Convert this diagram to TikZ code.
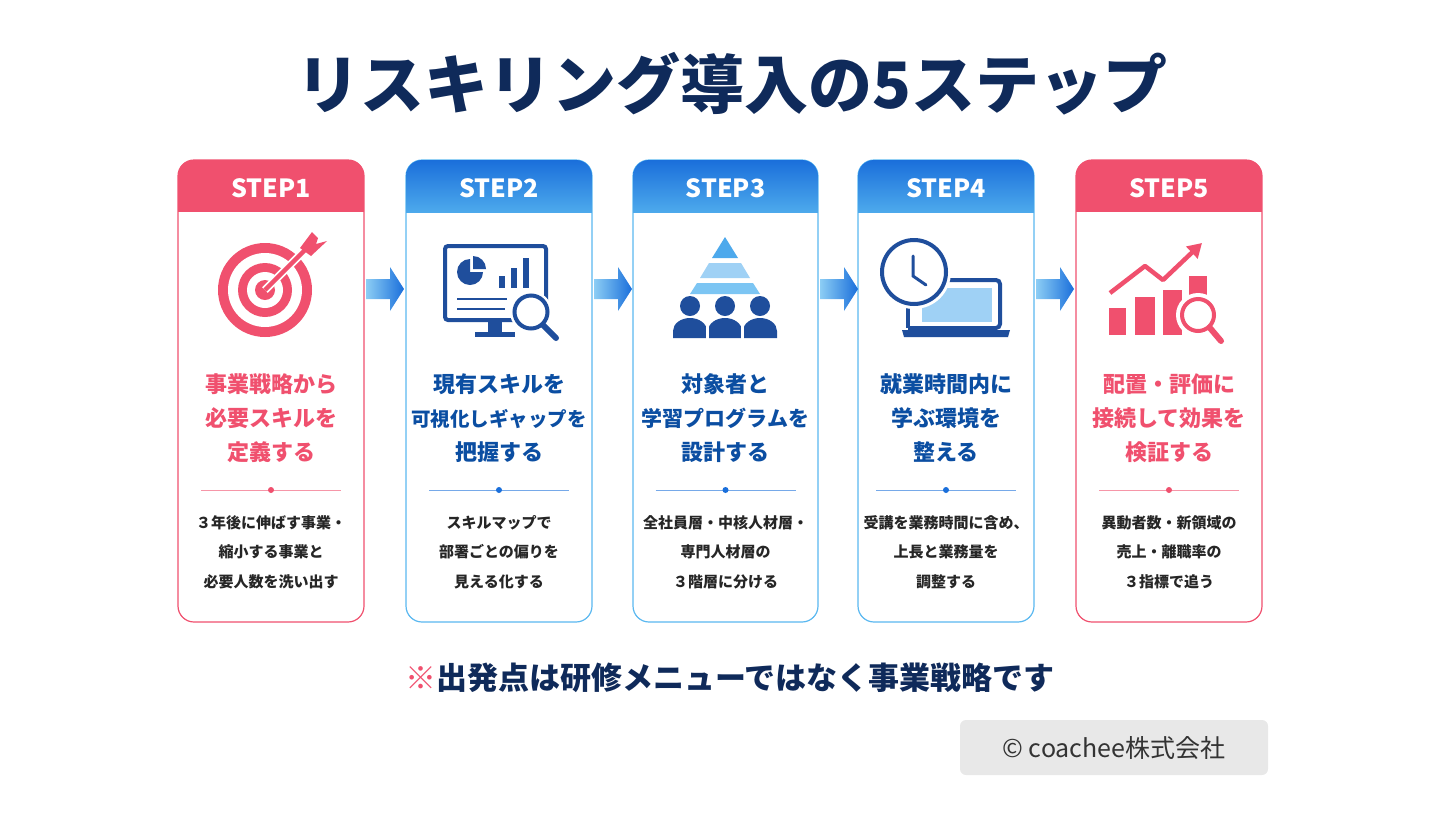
\documentclass[tikz,border=0pt]{standalone}
\usepackage{fontspec}
\setmainfont{Noto Sans CJK JP}
\usetikzlibrary{arrows.meta}
\definecolor{pk}{HTML}{F0506E}
\definecolor{bl}{HTML}{1A6FDB}
\definecolor{lb}{HTML}{5AB8F0}
\definecolor{nv}{HTML}{0F2A5A}
\definecolor{ib}{HTML}{1F4E9C}
\definecolor{tb}{HTML}{0B4EA2}
\definecolor{sky}{HTML}{9FD1F5}
\begin{document}
\begin{tikzpicture}[x=1pt,y=-1pt,
  card/.style={draw=#1,line width=1.2pt,rounded corners=16pt,fill=white},
  hd/.style={font=\bfseries\fontsize{25}{25}\selectfont,text=white},
  ttl/.style={font=\bfseries\fontsize{22}{34}\selectfont,align=center},
  desc/.style={font=\bfseries\fontsize{15}{29.5}\selectfont,align=center,text=black!85},
  ic/.style={line width=4pt,draw=ib}]
\useasboundingbox (0,0) rectangle (1440,820);
\node[font=\bfseries\fontsize{64}{64}\selectfont,text=nv] (title) at (732,84) {リスキリング導入の5ステップ};
% cards
\foreach \i/\x/\w/\c in {1/178/186/pk,2/406/186/lb,3/633/185/lb,4/858/176/lb,5/1076/186/pk}{
  \draw[card=\c] (\x,160) rectangle ++(\w,462);
}
% headers
\begin{scope}
\clip[rounded corners=16pt] (178,160) rectangle (364,260);
\fill[pk] (178,160) rectangle (364,212);
\end{scope}
\begin{scope}
\clip[rounded corners=16pt] (1076,160) rectangle (1262,260);
\fill[pk] (1076,160) rectangle (1262,212);
\end{scope}
\foreach \x/\w in {406/186,633/185,858/176}{
\begin{scope}
\clip[rounded corners=16pt] (\x,160) rectangle ++(\w,100);
\shade[top color=bl,bottom color=lb!80!bl] (\x,160) rectangle ++(\w,52);
\end{scope}}
\node[hd] (h1) at (271,188) {STEP1};
\node[hd] (h2) at (499,188) {STEP2};
\node[hd] (h3) at (725.5,188) {STEP3};
\node[hd] (h4) at (946,188) {STEP4};
\node[hd] (h5) at (1169,188) {STEP5};
% arrows
\foreach \a in {366,594,820,1036}{
  \shade[left color=lb!70,right color=bl] (\a,279) -- ++(24,0) -- ++(0,-12) -- ++(14,22) -- ++(-14,22) -- ++(0,-12) -- ++(-24,0) -- cycle;
}
% icon 1 target
\fill[pk] (265,290) circle (47);
\fill[white] (265,290) circle (37);
\fill[pk] (265,290) circle (27);
\fill[white] (265,290) circle (18);
\fill[pk] (265,290) circle (10);
\draw[white,line width=8pt] (265,290) -- (305,250);
\draw[pk,line width=4.5pt] (265,290) -- (308,247);
\fill[pk] (300,248) -- (312,232) -- (318,238) -- (316,244) -- (327,241) -- (311,256) -- cycle;
% icon 2 monitor
\draw[ic,rounded corners=3pt] (445,246) rectangle (546,320);
\fill[ib] (470,272) -- (470,259) arc (270:0:13) -- cycle;
\fill[ib] (473,269) -- (473,256) arc (270:360:13) -- cycle;
\fill[ib] (499,276) rectangle (505,288);
\fill[ib] (511,268) rectangle (517,288);
\fill[ib] (523,258) rectangle (529,288);
\draw[ib,line width=2.5pt] (457,299) -- (507,299) (457,309) -- (505,309);
\fill[ib] (488,322) rectangle (502,334);
\fill[ib] (475,332) rectangle (515,337);
\fill[white] (531,312) circle (21);
\draw[ic] (531,312) circle (16.5);
\draw[ib,line width=6pt,line cap=round] (543,325) -- (556,338);
% icon 3 pyramid
\fill[lb!80!bl] (725,237) -- (738,258) -- (712,258) -- cycle;
\fill[sky] (709,263) -- (741,263) -- (750,278) -- (700,278) -- cycle;
\fill[lb!50!sky] (697,283) -- (753,283) -- (760,294) -- (690,294) -- cycle;
\foreach \px in {690,725,760}{
  \fill[ib] (\px,306) circle (10);
  \fill[ib] (\px-17,338) -- (\px-17,331) arc (180:360:17 and 13) -- (\px+17,338) -- cycle;
}
\foreach \px in {707.5,742.5}{\draw[white,line width=3pt] (\px,318) -- (\px,340);}
% icon 4 clock + laptop
\draw[ic] (908,290) -- (908,328);
\draw[ic,rounded corners=4pt] (940,280) -- (1000,280) -- (1000,328) -- (908,328);
\fill[sky] (922,288) rectangle (992,322);
\fill[ib] (902,330) -- (1010,330) -- (1008,337) -- (904,337) -- cycle;
\fill[white] (914,272) circle (37);
\draw[ic] (914,272) circle (32);
\draw[ib,line width=3pt,line cap=round] (913,256) -- (913,276) -- (926,285);
% icon 5 chart
\fill[pk] (1109,308) rectangle (1126,335);
\fill[pk] (1135,297) rectangle (1155,335);
\fill[pk] (1163,290) rectangle (1182,335);
\fill[pk] (1189,276) rectangle (1207,335);
\draw[pk,line width=4.5pt,line join=round,-{Triangle[length=14pt,width=16pt]}] (1110,293) -- (1145,266) -- (1163,280) -- (1202,243);
\fill[white] (1198,315) circle (22);
\draw[pk,line width=4pt] (1198,315) circle (16);
\draw[pk,line width=6pt,line cap=round] (1210,328) -- (1221,341);
% titles
\node[ttl,text=pk] (t1) at (271,418) {事業戦略から\\必要スキルを\\定義する};
\node[ttl,text=tb] (t2) at (499,418) {現有スキルを\\{\fontsize{19.5}{34}\selectfont 可視化しギャップを}\\把握する};
\node[ttl,text=tb] (t3) at (725.5,418) {対象者と\\{\fontsize{21}{34}\selectfont 学習プログラムを}\\設計する};
\node[ttl,text=tb] (t4) at (946,418) {就業時間内に\\学ぶ環境を\\整える};
\node[ttl,text=pk] (t5) at (1169,418) {配置・評価に\\接続して効果を\\検証する};
% dividers
\foreach \cx/\c in {271/pk,499/bl,725.5/bl,946/bl,1169/pk}{
  \draw[\c!60,line width=0.8pt] (\cx-70,490) -- (\cx+70,490);
  \fill[\c] (\cx,490) circle (3);
}
% descriptions
\node[desc] (d1) at (271,552) {３年後に伸ばす事業・\\縮小する事業と\\必要人数を洗い出す};
\node[desc] (d2) at (499,552) {スキルマップで\\部署ごとの偏りを\\見える化する};
\node[desc] (d3) at (725.5,552) {全社員層・中核人材層・\\専門人材層の\\３階層に分ける};
\node[desc] (d4) at (946,552) {受講を業務時間に含め、\\上長と業務量を\\調整する};
\node[desc] (d5) at (1169,552) {異動者数・新領域の\\売上・離職率の\\３指標で追う};
% footnote
\node[font=\bfseries\fontsize{31}{31}\selectfont,text=nv] (fn) at (730,678) {\textcolor{pk}{※}出発点は研修メニューではなく事業戦略です};
\fill[black!9,rounded corners=6pt] (960,720) rectangle (1268,775);
\node[font=\fontsize{25}{25}\selectfont,text=black!80] (cp) at (1114,748) {© coachee株式会社};
\end{tikzpicture}
\end{document}
